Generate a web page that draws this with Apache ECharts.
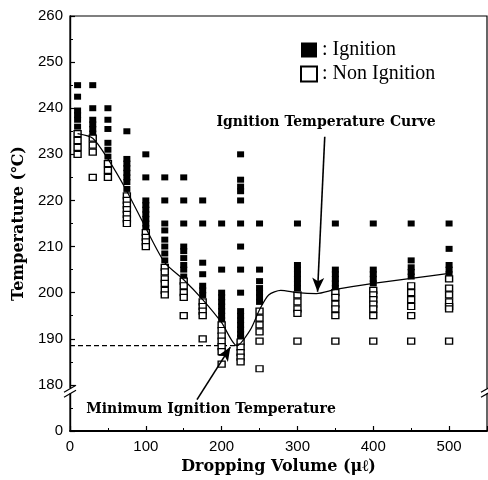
<!DOCTYPE html>
<html>
<head>
<meta charset="utf-8">
<script src="https://cdn.jsdelivr.net/npm/echarts@6/dist/echarts.min.js"></script>
<style>
html, body { margin: 0; padding: 0; background: #fff; }
#chart { width: 488px; height: 480px; }
</style>
</head>
<body>
<div id="chart"></div>
<script>
/* global echarts */
// dropping volume columns (µl)
const volumes = [10, 30, 50, 75, 100, 125, 150, 175, 200, 225, 250, 300, 350, 400, 450, 500]

// temperatures read per column
const ignitionTemps = [
  [245, 242.5, 239.5, 238.5, 237.5, 236],
  [245, 240, 237.5, 236.5, 235.5, 234.5],
  [240, 237.5, 235.5, 232.5, 231, 229.5],
  [235, 229, 228, 227, 226, 225, 224, 222.5],
  [230, 225, 220, 219, 218, 217, 216, 215, 214],
  [225, 220, 215, 213.5, 211.5, 210, 208.5, 207],
  [225, 220, 215, 210, 209, 207.5, 206, 205, 203.5],
  [220, 215, 206.5, 204, 201.5, 200.5, 199.5],
  [215, 205, 200, 199, 198, 197, 196, 195, 194],
  [230, 224.5, 223, 222, 220, 215, 210, 205, 200, 196, 195, 194, 193, 192, 191, 190.2],
  [215, 205, 202.5, 201, 200, 199, 198],
  [215, 206, 205, 204, 203, 202, 201],
  [215, 205, 204, 203, 202, 201],
  [215, 205, 204, 203, 202],
  [215, 207, 205.5, 204.5, 203.5],
  [215, 209.5, 206, 205, 204]
]
const nonIgnitionTemps = [
  [234.5, 233, 231.5, 230],
  [233.5, 232, 230.5, 225],
  [228, 226.5, 225],
  [221, 220, 219, 218, 217, 216, 215],
  [213, 212, 211, 210],
  [205.5, 204.5, 203, 202, 200.5, 199.5],
  [202.5, 201.5, 200, 199, 195],
  [198, 197, 196, 195, 190],
  [193, 191.8, 190.6, 189.5, 188.3, 187.2, 184.5],
  [189.3, 188.2, 187, 186, 185],
  [196, 194.5, 193, 191.5, 189.5, 183.5],
  [199.5, 198, 196.5, 195.5, 189.5],
  [200, 199, 197.5, 196.5, 195, 189.5],
  [200.5, 199.5, 198.5, 197.5, 196.5, 195, 189.5],
  [201.5, 200, 198.5, 197, 195, 189.5],
  [203, 201, 199.5, 198, 197, 196.5, 189.5]
]

// ignition temperature curve
const curveVolume = [10, 30, 50, 75, 100, 125, 150, 175, 200, 220, 238, 250, 262, 278, 300, 325, 350, 400, 450, 500]
const curveTemp = [234.5, 233.5, 229, 222, 214, 206.5, 202.8, 198.5, 193.5, 188.5, 192, 196.3, 199.5, 200.5, 200, 199.8, 200.7, 202, 203.1, 204.2]

// minimum ignition temperature guide
const minVolume = 220
const minTemp = 188.5

// annotation arrows [from, to]
const curveArrow = [[336, 233.8], [326.5, 200.2]]
const minArrow = [[167.5, 176.8], [211.5, 188.2]]

// axes
const xTicks = [0, 100, 200, 300, 400, 500]
const xMax = 550
const yMin = 170   // drawn as "0" below the axis break
const yMax = 260
const breakTemp = 178.6

function pairs (cols) {
  const out = []
  cols.forEach((temps, i) => {
    temps.forEach(t => out.push([volumes[i], t]))
  })
  return out
}

const serif = 'Liberation Serif'
const wideSerif = 'DejaVu Serif'
const narrow = '"Liberation Sans Narrow", "Liberation Sans", sans-serif'

const chart = echarts.init(document.getElementById('chart'))

const option = {
  animation: false,
  backgroundColor: '#fff',
  grid: {
    left: 70,
    right: 1,
    top: 16,
    bottom: 49,
    show: true,
    borderColor: '#000',
    borderWidth: 1.2
  },
  legend: {
    data: ['Ignition', 'Non Ignition'],
    orient: 'vertical',
    left: 300,
    top: 40,
    padding: 0,
    itemWidth: 16,
    itemHeight: 15,
    itemGap: 4,
    icon: 'rect',
    formatter: name => ': ' + name,
    textStyle: { fontFamily: serif, fontSize: 20, color: '#000' }
  },
  xAxis: {
    type: 'value',
    min: 0,
    max: xMax,
    interval: 100,
    name: 'Dropping Volume (μℓ)',
    nameLocation: 'middle',
    nameGap: 26,
    nameTextStyle: { fontFamily: wideSerif, fontSize: 16, fontWeight: 'bold', color: '#000' },
    axisLine: { lineStyle: { color: '#000', width: 1.8 } },
    axisTick: { inside: true, length: 5, lineStyle: { color: '#000', width: 1.2 } },
    minorTick: { show: true, splitNumber: 2, length: 3, lineStyle: { color: '#000' } },
    splitLine: { show: false },
    axisLabel: {
      margin: 8,
      fontFamily: narrow,
      fontSize: 15,
      color: '#000',
      showMaxLabel: false,
      formatter: v => (xTicks.indexOf(v) >= 0 ? String(v) : '')
    }
  },
  yAxis: {
    type: 'value',
    min: yMin,
    max: yMax,
    interval: 10,
    name: 'Temperature (℃)',
    nameLocation: 'middle',
    nameGap: 33,
    nameTextStyle: { fontFamily: wideSerif, fontSize: 16, fontWeight: 'bold', color: '#000' },
    axisLine: { lineStyle: { color: '#000', width: 1.4 } },
    axisTick: { inside: true, length: 5, lineStyle: { color: '#000', width: 1.2 } },
    minorTick: { show: true, splitNumber: 2, length: 3, lineStyle: { color: '#000' } },
    splitLine: { show: false },
    axisLabel: {
      margin: 7,
      fontFamily: narrow,
      fontSize: 15,
      color: '#000',
      formatter: v => (v === yMin ? '0' : String(v))
    }
  },
  graphic: [
    {
      type: 'text',
      style: {
        text: 'Ignition Temperature Curve',
        x: 326,
        y: 122,
        align: 'center',
        verticalAlign: 'middle',
        font: 'bold 14px "DejaVu Serif"',
        fill: '#000'
      }
    },
    {
      type: 'text',
      style: {
        text: 'Minimum Ignition Temperature',
        x: 211,
        y: 409,
        align: 'center',
        verticalAlign: 'middle',
        font: 'bold 14px "DejaVu Serif"',
        fill: '#000'
      }
    }
  ],
  series: [
    {
      name: 'Ignition',
      type: 'scatter',
      symbol: 'rect',
      symbolSize: [7, 6],
      itemStyle: { color: '#000', opacity: 1 },
      data: pairs(ignitionTemps),
      z: 3
    },
    {
      name: 'Non Ignition',
      type: 'scatter',
      symbol: 'rect',
      symbolSize: [7, 6],
      itemStyle: { color: '#fff', borderColor: '#000', borderWidth: 1.3, opacity: 1 },
      data: pairs(nonIgnitionTemps),
      z: 3
    },
    {
      name: 'curve',
      type: 'line',
      smooth: 0.25,
      symbol: 'none',
      lineStyle: { color: '#000', width: 1.2 },
      data: curveVolume.map((v, i) => [v, curveTemp[i]]),
      z: 4
    },
    {
      name: 'minimum',
      type: 'line',
      symbol: 'none',
      lineStyle: { color: '#000', width: 1.2, type: [5, 3] },
      data: [[0, minTemp], [minVolume, minTemp]],
      z: 2,
      markLine: {
        silent: true,
        symbol: ['none', 'arrow'],
        symbolSize: [9, 14],
        label: { show: false },
        lineStyle: { color: '#000', width: 1.6, type: 'solid' },
        data: [
          [{ coord: curveArrow[0] }, { coord: curveArrow[1] }],
          [{ coord: minArrow[0] }, { coord: minArrow[1] }]
        ]
      }
    }
  ]
}

chart.setOption(option)

// axis break marks on left and right axes
function breakMark (id, p) {
  const x = p[0]
  const y = p[1]
  return [
    {
      id: id + 'gap',
      type: 'rect',
      shape: { x: x - 3, y: y - 3, width: 6, height: 5 },
      style: { fill: '#fff' },
      z: 10
    },
    {
      id: id + 'a',
      type: 'line',
      shape: { x1: x - 6, y1: y + 1, x2: x + 6, y2: y - 6 },
      style: { stroke: '#000', lineWidth: 1.2 },
      z: 11
    },
    {
      id: id + 'b',
      type: 'line',
      shape: { x1: x - 6, y1: y + 6, x2: x + 6, y2: y - 1 },
      style: { stroke: '#000', lineWidth: 1.2 },
      z: 11
    }
  ]
}
const leftBreak = chart.convertToPixel({ gridIndex: 0 }, [0, breakTemp])
const rightBreak = chart.convertToPixel({ gridIndex: 0 }, [xMax, breakTemp])
chart.setOption({
  graphic: option.graphic.concat(breakMark('lb', leftBreak), breakMark('rb', rightBreak))
})
</script>
</body>
</html>
